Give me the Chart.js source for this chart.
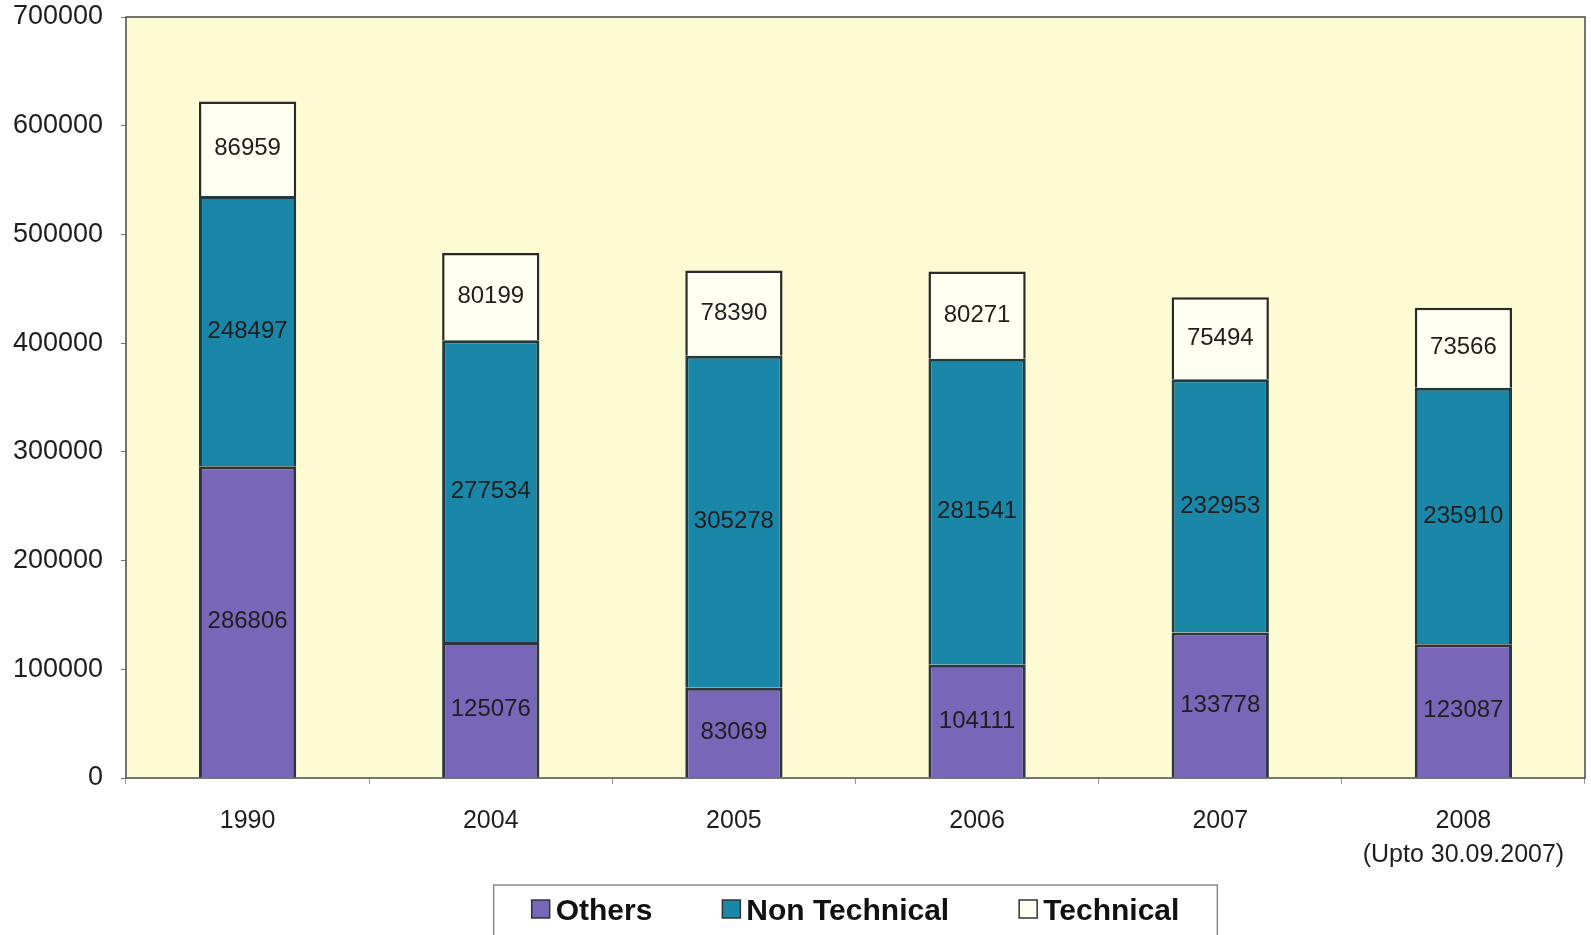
<!DOCTYPE html>
<html>
<head>
<meta charset="utf-8">
<script src="https://cdn.jsdelivr.net/npm/chart.js@4.4.0/dist/chart.umd.min.js"></script>
<style>
  body { margin: 0; background: #ffffff; }
  #box { width: 1591px; height: 935px; }
</style>
</head>
<body>
<div id="box"><canvas id="chart1"></canvas></div>
<script>
var anos = ["1990", "2004", "2005", "2006", "2007", ["2008", "(Upto 30.09.2007)"]];
var others = [286806, 125076, 83069, 104111, 133778, 123087];
var nonTechnical = [248497, 277534, 305278, 281541, 232953, 235910];
var technical = [86959, 80199, 78390, 80271, 75494, 73566];
var yTicks = [0, 100000, 200000, 300000, 400000, 500000, 600000, 700000];

var fonte = "'Liberation Sans', Arial, sans-serif";

// fundo amarelo e moldura da area do grafico
var fundo = {
    id: 'fundo',
    beforeDatasetsDraw: function(chart){
        var a = chart.chartArea, ctx = chart.ctx;
        ctx.save();
        ctx.fillStyle = '#fdfbd3';
        ctx.fillRect(a.left, a.top, a.right - a.left, a.bottom - a.top);
        ctx.strokeStyle = '#4a4a4a';
        ctx.lineWidth = 1.5;
        ctx.strokeRect(a.left, a.top, a.right - a.left, a.bottom - a.top);
        ctx.restore();
    }
};

// valores dentro de cada pedaco da barra
var rotulos = {
    id: 'rotulos',
    afterDatasetsDraw: function(chart){
        var ctx = chart.ctx;
        ctx.save();
        ctx.font = '24px ' + fonte;
        ctx.fillStyle = '#1e1e1e';
        ctx.textAlign = 'center';
        ctx.textBaseline = 'middle';
        chart.data.datasets.forEach(function(ds, i){
            chart.getDatasetMeta(i).data.forEach(function(bar, j){
                ctx.fillText(ds.data[j], bar.x, (bar.y + bar.base) / 2);
            });
        });
        ctx.restore();
    }
};

// legenda com moldura embaixo
var legenda = {
    id: 'legenda',
    afterDraw: function(chart){
        var ctx = chart.ctx, a = chart.chartArea;
        var caixa = 18, gap = 6, espaco = 70, margem = 38;
        ctx.save();
        ctx.font = 'bold 30px ' + fonte;
        var total = 0;
        chart.data.datasets.forEach(function(ds, i){
            total += caixa + gap + ctx.measureText(ds.label).width;
            if (i > 0) total += espaco;
        });
        var centro = (a.left + a.right) / 2;
        var x = centro - total / 2;
        var topo = a.bottom + 107;
        ctx.strokeStyle = '#8a8a8a';
        ctx.lineWidth = 1.5;
        ctx.strokeRect(x - margem, topo, total + margem * 2, 60);
        var meio = topo + 27;
        ctx.textBaseline = 'middle';
        ctx.textAlign = 'left';
        chart.data.datasets.forEach(function(ds){
            ctx.fillStyle = ds.backgroundColor;
            ctx.fillRect(x, meio - 12, caixa, caixa);
            ctx.strokeStyle = '#333333';
            ctx.lineWidth = 1.5;
            ctx.strokeRect(x, meio - 12, caixa, caixa);
            ctx.fillStyle = '#111111';
            ctx.fillText(ds.label, x + caixa + gap, meio);
            x += caixa + gap + ctx.measureText(ds.label).width + espaco;
        });
        ctx.restore();
    }
};

var data = {
    labels: anos,
    datasets: [{
        label: 'Others',
        data: others,
        backgroundColor: '#7866b8',
        borderColor: '#2e3440',
        borderWidth: 3
    }, {
        label: 'Non Technical',
        data: nonTechnical,
        backgroundColor: '#1a87a8',
        borderColor: '#1f3a40',
        borderWidth: 3
    }, {
        label: 'Technical',
        data: technical,
        backgroundColor: '#fffff2',
        borderColor: '#2a2a2a',
        borderWidth: 2.5
    }]
};

var options = {
    responsive: true,
    maintainAspectRatio: false,
    animation: false,
    barPercentage: 0.4,
    categoryPercentage: 1,
    layout: { padding: { top: 17, right: 6, left: 0, bottom: 0 } },
    plugins: {
        legend: { display: false },
        tooltip: { enabled: false }
    },
    scales: {
        x: {
            stacked: true,
            afterFit: function(s){ s.height = 157; s.paddingLeft = 0; s.paddingRight = 0; },
            grid: { display: true, drawOnChartArea: false, offset: true, tickLength: 6, color: '#999999' },
            border: { display: false },
            ticks: { color: '#1e1e1e', padding: 20, font: { family: fonte, size: 25, lineHeight: 1.35 } }
        },
        y: {
            stacked: true,
            min: 0,
            max: 700000,
            afterFit: function(s){ s.width = 126; s.paddingTop = 0; s.paddingBottom = 0; },
            afterBuildTicks: function(s){ s.ticks = yTicks.map(function(v){ return { value: v }; }); },
            grid: { display: true, drawOnChartArea: false, tickLength: 5, color: '#777777' },
            border: { display: false },
            ticks: {
                color: '#1e1e1e',
                padding: 18,
                font: { family: fonte, size: 27 },
                callback: function(v){ return v; }
            }
        }
    }
};

var ctx = document.getElementById("chart1");
var barras = new Chart(ctx, {
    type: 'bar',
    data: data,
    options: options,
    plugins: [fundo, rotulos, legenda]
});
</script>
</body>
</html>
